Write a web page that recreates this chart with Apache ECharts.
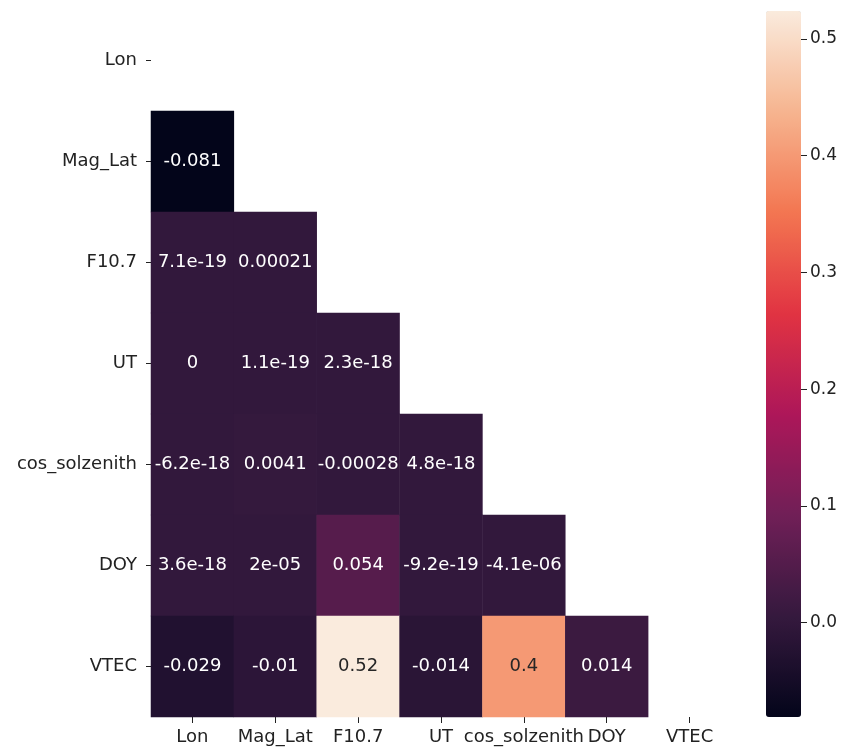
<!DOCTYPE html>
<html>
<head>
<meta charset="utf-8">
<script src="https://cdn.jsdelivr.net/npm/echarts@6/dist/echarts.min.js"></script>
<style>
html,body{margin:0;padding:0;background:#fff;}
#chart{width:844px;height:754px;}
</style>
</head>
<body>
<div id="chart"></div>
<script>
// Variables (row and column order)
var variables = ["Lon", "Mag_Lat", "F10.7", "UT", "cos_solzenith", "DOY", "VTEC"];

// Lower-triangle correlation values, one array per row (columns Lon.. up to row-1)
var rowLon = [];
var rowMagLat = [-0.081];
var rowF107 = [7.1e-19, 0.00021];
var rowUT = [0, 1.1e-19, 2.3e-18];
var rowCosSolzenith = [-6.2e-18, 0.0041, -0.00028, 4.8e-18];
var rowDOY = [3.6e-18, 2e-05, 0.054, -9.2e-19, -4.1e-06];
var rowVTEC = [-0.029, -0.01, 0.524, -0.014, 0.4, 0.014];

// Colorbar tick values
var colorbarTicks = [0.0, 0.1, 0.2, 0.3, 0.4, 0.5];

// "rocket" colormap stops
var rocket = ["#03051a", "#35193e", "#701f57", "#ad1759", "#e13342", "#f37651", "#f6b48f", "#faebdd"];

var rows = [rowLon, rowMagLat, rowF107, rowUT, rowCosSolzenith, rowDOY, rowVTEC];

function fmt2g(v) {
  if (v === 0) return "0";
  var s = v.toExponential(1);
  var parts = s.split("e");
  var mant = parts[0].replace(/\.0$/, "");
  var exp = parseInt(parts[1], 10);
  if (exp < -4 || exp >= 2) {
    var es = (exp < 0 ? "-" : "+") + (Math.abs(exp) < 10 ? "0" : "") + Math.abs(exp);
    return mant + "e" + es;
  }
  var f = parseFloat(v.toPrecision(2)).toFixed(Math.max(0, 1 - exp));
  if (f.indexOf(".") >= 0) f = f.replace(/0+$/, "").replace(/\.$/, "");
  return f;
}

var data = [];
var vmin = Infinity, vmax = -Infinity;
rows.forEach(function (r) {
  r.forEach(function (v) {
    vmin = Math.min(vmin, v); vmax = Math.max(vmax, v);
  });
});
rows.forEach(function (r, i) {
  r.forEach(function (v, j) {
    var t = (v - vmin) / (vmax - vmin);
    data.push({
      value: [j, i, v],
      label: { color: t > 0.6 ? "#262626" : "#ffffff" }
    });
  });
});

var chart = echarts.init(document.getElementById("chart"), null, { renderer: "canvas" });
var fontFam = "DejaVu Sans";
chart.setOption({
  animation: false,
  backgroundColor: "#ffffff",
  grid: [
    { left: 151, top: 10, width: 580, height: 707 },
    { left: 766, top: 11, width: 35, height: 706 }
  ],
  xAxis: [
    {
      type: "category", gridIndex: 0, data: variables,
      splitArea: { show: false },
      axisLine: { show: false },
      axisTick: { show: true, length: 6, alignWithLabel: true, lineStyle: { color: "#222" } },
      axisLabel: { interval: 0, margin: 11, fontSize: 18, color: "#222", fontFamily: fontFam }
    },
    { type: "category", gridIndex: 1, data: ["c"], show: false }
  ],
  yAxis: [
    {
      type: "category", gridIndex: 0, data: variables, inverse: true,
      splitArea: { show: false },
      axisLine: { show: false },
      axisTick: { show: true, length: 5, alignWithLabel: true, lineStyle: { color: "#222" } },
      axisLabel: { interval: 0, margin: 14, fontSize: 18, color: "#222", fontFamily: fontFam }
    },
    {
      type: "value", gridIndex: 1, position: "right", min: vmin, max: vmax,
      axisLine: { show: false },
      splitLine: { show: false },
      axisTick: { show: true, length: 6, customValues: colorbarTicks, lineStyle: { color: "#222" } },
      axisLabel: {
        margin: 9, fontSize: 17, color: "#222", fontFamily: fontFam,
        customValues: colorbarTicks,
        formatter: function (v) { return v.toFixed(1); }
      }
    }
  ],
  visualMap: {
    type: "continuous",
    seriesIndex: 0,
    min: vmin, max: vmax,
    calculable: false,
    realtime: false,
    orient: "vertical",
    left: 766, top: 11,
    itemWidth: 35, itemHeight: 706,
    padding: 0,
    text: null,
    showLabel: false,
    inRange: { color: rocket }
  },
  series: [
    {
      type: "heatmap",
      xAxisIndex: 0, yAxisIndex: 0,
      data: data,
      label: {
        show: true, fontSize: 18, fontFamily: fontFam,
        formatter: function (p) { return fmt2g(p.value[2]); }
      },
      itemStyle: { borderWidth: 0 },
      emphasis: { disabled: true }
    },
    {
      type: "line", xAxisIndex: 1, yAxisIndex: 1, data: [], silent: true
    }
  ]
});
</script>
</body>
</html>
